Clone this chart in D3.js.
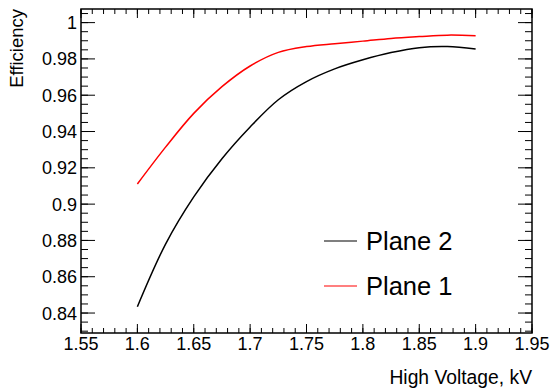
<!DOCTYPE html>
<html>
<head>
<meta charset="utf-8">
<script src="https://cdn.jsdelivr.net/npm/d3@7"></script>
<style>
body{margin:0;background:#fff}
text{font-family:"Liberation Sans",Arial,sans-serif}
</style>
</head>
<body>
<svg></svg>
<script>
// high voltage points (kV)
var voltage = [1.6,1.625,1.65,1.675,1.7,1.725,1.75,1.775,1.8,1.825,1.85,1.875,1.9]
// efficiency per plane
var plane1 = [0.9111,0.9314,0.9500,0.9647,0.9761,0.9836,0.9868,0.9884,0.9898,0.9913,0.9923,0.9931,0.9928]
var plane2 = [0.8435,0.8780,0.9040,0.9250,0.9425,0.9575,0.9675,0.9745,0.9795,0.9835,0.9862,0.9868,0.9855]
var xTicks = [1.55,1.6,1.65,1.7,1.75,1.8,1.85,1.9,1.95]
var yTicks = [0.84,0.86,0.88,0.9,0.92,0.94,0.96,0.98,1]
var legendNames = ["Plane 2","Plane 1"]
var legendColors = ["#000000","#ff0000"]

var screen = {width:553, height:388}
var frame = {left:81, right:532, top:9, bottom:333}

var svg = d3.select("svg")
    .attr("width",screen.width)
    .attr("height",screen.height)

var xscale = d3.scaleLinear()
    .domain([1.55,1.95])
    .range([frame.left,frame.right])
var yscale = d3.scaleLinear()
    .domain([0.829,1.0075])
    .range([frame.bottom,frame.top])

// minor ticks
var xMinor = d3.range(1.55,1.9501,0.01)
var yMinor = d3.range(0.83,1.0075,0.005)

var ax = svg.append("g").attr("stroke","#000").attr("stroke-width",1)

// x ticks bottom and top
ax.selectAll(".xb").data(xMinor).enter().append("line")
    .attr("x1",function(d){return xscale(d)}).attr("x2",function(d){return xscale(d)})
    .attr("y1",frame.bottom).attr("y2",frame.bottom-5)
ax.selectAll(".xt").data(xMinor).enter().append("line")
    .attr("x1",function(d){return xscale(d)}).attr("x2",function(d){return xscale(d)})
    .attr("y1",frame.top).attr("y2",frame.top+5)
ax.selectAll(".xbM").data(xTicks).enter().append("line")
    .attr("x1",function(d){return xscale(d)}).attr("x2",function(d){return xscale(d)})
    .attr("y1",frame.bottom).attr("y2",frame.bottom-9)
ax.selectAll(".xtM").data(xTicks).enter().append("line")
    .attr("x1",function(d){return xscale(d)}).attr("x2",function(d){return xscale(d)})
    .attr("y1",frame.top).attr("y2",frame.top+9)

// y ticks left and right
ax.selectAll(".yl").data(yMinor).enter().append("line")
    .attr("y1",function(d){return yscale(d)}).attr("y2",function(d){return yscale(d)})
    .attr("x1",frame.left).attr("x2",frame.left+7)
ax.selectAll(".yr").data(yMinor).enter().append("line")
    .attr("y1",function(d){return yscale(d)}).attr("y2",function(d){return yscale(d)})
    .attr("x1",frame.right).attr("x2",frame.right-7)
ax.selectAll(".ylM").data(yTicks).enter().append("line")
    .attr("y1",function(d){return yscale(d)}).attr("y2",function(d){return yscale(d)})
    .attr("x1",frame.left).attr("x2",frame.left+14)
ax.selectAll(".yrM").data(yTicks).enter().append("line")
    .attr("y1",function(d){return yscale(d)}).attr("y2",function(d){return yscale(d)})
    .attr("x1",frame.right).attr("x2",frame.right-14)

svg.append("rect")
    .attr("x",frame.left).attr("y",frame.top)
    .attr("width",frame.right-frame.left).attr("height",frame.bottom-frame.top)
    .attr("fill","none").attr("stroke","#000").attr("stroke-width",1.5)

// tick labels
svg.selectAll(".xl").data(xTicks).enter().append("text")
    .attr("x",function(d){return xscale(d)})
    .attr("y",350)
    .attr("text-anchor","middle")
    .style("font-size","18px")
    .text(function(d){return d3.format("")(d)})
svg.selectAll(".ylab").data(yTicks).enter().append("text")
    .attr("x",77)
    .attr("y",function(d){return yscale(d)+6.5})
    .attr("text-anchor","end")
    .style("font-size","18px")
    .text(function(d){return d3.format("")(d)})

// axis titles
svg.append("text")
    .attr("x",frame.right).attr("y",384)
    .attr("text-anchor","end")
    .style("font-size","19.3px")
    .text("High Voltage, kV")
svg.append("text")
    .attr("transform","translate(23,"+frame.top+") rotate(-90)")
    .attr("text-anchor","end")
    .style("font-size","18.5px")
    .text("Efficiency")

// curves
var line = d3.line()
    .x(function(d){return xscale(d[0])})
    .y(function(d){return yscale(d[1])})
    .curve(d3.curveCatmullRom)

svg.append("path")
    .datum(d3.zip(voltage,plane2))
    .attr("d",line)
    .attr("fill","none").attr("stroke","#000").attr("stroke-width",1.5)
svg.append("path")
    .datum(d3.zip(voltage,plane1))
    .attr("d",line)
    .attr("fill","none").attr("stroke","#ff0000").attr("stroke-width",1.5)

// legend
var leg = svg.selectAll(".leg").data(legendNames).enter().append("g")
    .attr("transform",function(d,i){return "translate(0,"+(241+i*45)+")"})
leg.append("line")
    .attr("x1",324).attr("x2",357)
    .attr("y1",0).attr("y2",0)
    .attr("stroke",function(d,i){return legendColors[i]})
    .attr("stroke-width",1.2)
leg.append("text")
    .attr("x",366).attr("y",9)
    .style("font-size","25.5px")
    .text(function(d){return d})
</script>
</body>
</html>
